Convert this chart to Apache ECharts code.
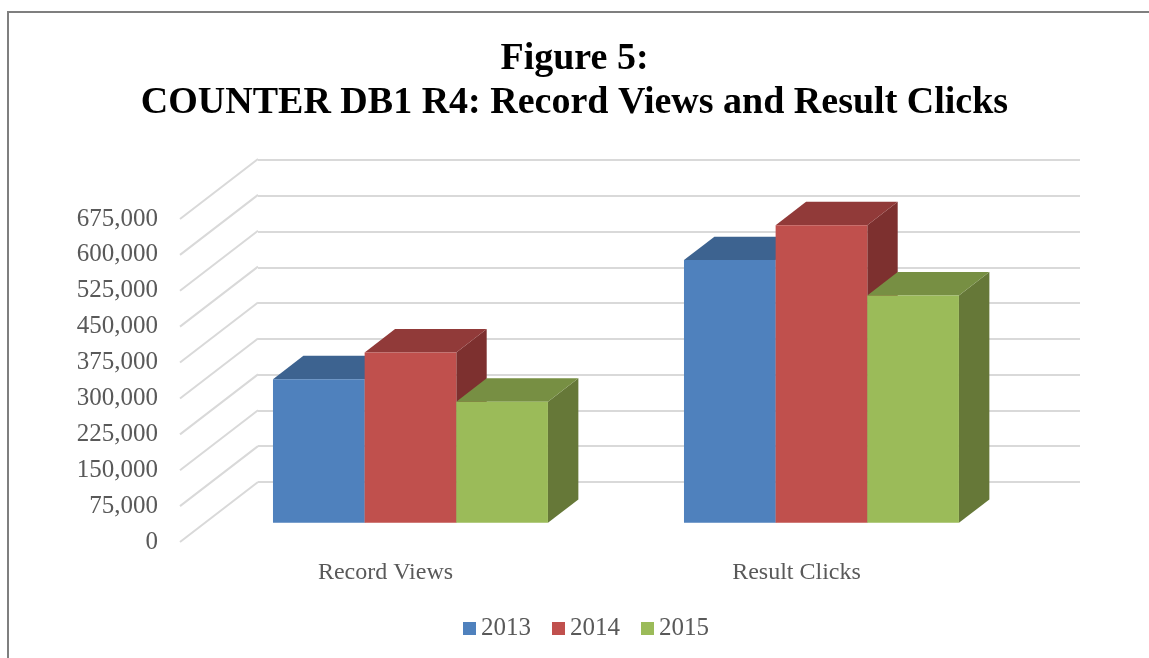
<!DOCTYPE html>
<html>
<head>
<meta charset="utf-8">
<script src="https://cdn.jsdelivr.net/npm/echarts@6/dist/echarts.min.js"></script>
<style>
    html, body { margin: 0; padding: 0; background: #fff; }
    #chart { width: 1149px; height: 658px; }
</style>
</head>
<body>
<div id="chart"></div>
<script>
// data
const categories = ['Record Views', 'Result Clicks']
const years = ['2013', '2014', '2015']
const values2013 = [300000, 549000]
const values2014 = [356000, 622000]
const values2015 = [253000, 475000]
const yMax = 675000
const yStep = 75000
const yTicks = [0, 75000, 150000, 225000, 300000, 375000, 450000, 525000, 600000, 675000]

// colours: front, top, side
const faceColors = [
    ['#4F81BD', '#3D6390', '#365780'],
    ['#C0504D', '#913A39', '#7D302F'],
    ['#9BBB59', '#778F43', '#667838']
]

// 3d box geometry (front plane grid -> back wall grid)
const FRONT = { left: 180, top: 219, width: 822, height: 323 }
const BACK = { left: 258, top: 160, width: 822, height: 322 }
const depthX = BACK.left - FRONT.left
const depthY = (BACK.top + BACK.height) - (FRONT.top + FRONT.height)
const barShift = 0.32   // where the bar front face sits in depth
const barDepth = 0.39   // how deep the bar is
const barRatio = 0.223  // bar width / category band

const fontFamily = '"Liberation Serif", "DejaVu Serif", serif'
const labelColor = '#595959'

const chart = echarts.init(document.getElementById('chart'))

const fmt = v => v.toLocaleString('en-US')

// draw one 3d bar
const barRender = (seriesPos) => (params, api) => {
    const cat = api.value(0)
    const base = api.coord([cat, 0])
    const top = api.coord([cat, api.value(1)])
    const band = api.size([1, 0])[0]
    const bw = band * barRatio
    const sx = depthX * barShift
    const sy = depthY * barShift
    const dx = depthX * barDepth
    const dy = depthY * barDepth
    const x0 = base[0] - 1.5 * bw + seriesPos * bw + sx
    const x1 = x0 + bw
    const yb = base[1] + sy
    const yt = top[1] + sy
    const c = faceColors[seriesPos]
    return {
        type: 'group',
        children: [
            {
                type: 'polygon',
                shape: { points: [[x1, yb], [x1 + dx, yb + dy], [x1 + dx, yt + dy], [x1, yt]] },
                style: { fill: c[2] }
            },
            {
                type: 'polygon',
                shape: { points: [[x0, yt], [x1, yt], [x1 + dx, yt + dy], [x0 + dx, yt + dy]] },
                style: { fill: c[1] }
            },
            {
                type: 'rect',
                shape: { x: x0, y: yt, width: bw, height: yb - yt },
                style: { fill: c[0] }
            }
        ]
    }
}

// diagonal grid lines from front labels to the back wall
const diagRender = (params, api) => {
    const y = api.coord([0, api.value(0)])[1]
    const x = params.coordSys.x
    return {
        type: 'line',
        shape: { x1: x, y1: y, x2: x + depthX, y2: y + depthY },
        style: { stroke: '#D9D9D9', lineWidth: 2 }
    }
}

const seriesValues = [values2013, values2014, values2015]

const titleStyle = {
    fontFamily: fontFamily,
    fontWeight: 'bold',
    fontSize: 38,
    color: '#000'
}

const option = {
    animation: false,
    color: faceColors.map(c => c[0]),
    title: [
        { text: 'Figure 5:', left: 'center', top: 35, textStyle: titleStyle },
        { text: 'COUNTER DB1 R4: Record Views and Result Clicks', left: 'center', top: 79, textStyle: titleStyle }
    ],
    legend: {
        data: years,
        bottom: 12,
        left: 458,
        icon: 'rect',
        itemWidth: 13,
        itemHeight: 13,
        itemGap: 21,
        textStyle: { fontFamily: fontFamily, fontSize: 25, color: labelColor }
    },
    graphic: [{
        type: 'rect',
        shape: { x: 8, y: 12, width: 1300, height: 800 },
        style: { fill: 'none', stroke: '#7F7F7F', lineWidth: 2 },
        silent: true
    }],
    grid: [
        { left: FRONT.left, top: FRONT.top, width: FRONT.width, height: FRONT.height },
        { left: BACK.left, top: BACK.top, width: BACK.width, height: BACK.height }
    ],
    xAxis: [
        {
            type: 'category',
            gridIndex: 0,
            data: categories,
            axisLine: { show: false },
            axisTick: { show: false },
            axisLabel: { margin: 19, fontFamily: fontFamily, fontSize: 24, color: labelColor }
        },
        {
            type: 'category',
            gridIndex: 1,
            data: categories,
            show: false
        }
    ],
    yAxis: [
        {
            type: 'value',
            gridIndex: 0,
            min: 0,
            max: yMax,
            interval: yStep,
            axisLine: { show: false },
            axisTick: { show: false },
            splitLine: { show: false },
            axisLabel: { margin: 22, fontFamily: fontFamily, fontSize: 25, color: labelColor, formatter: fmt }
        },
        {
            type: 'value',
            gridIndex: 1,
            min: 0,
            max: yMax,
            interval: yStep,
            axisLine: { show: false },
            axisTick: { show: false },
            axisLabel: { show: false },
            splitLine: { lineStyle: { color: '#D9D9D9', width: 2 } }
        }
    ],
    series: [
        {
            type: 'custom',
            xAxisIndex: 0,
            yAxisIndex: 0,
            silent: true,
            z: 1,
            renderItem: diagRender,
            data: yTicks.map(v => [v])
        }
    ].concat(years.map((y, i) => ({
        name: y,
        type: 'custom',
        xAxisIndex: 0,
        yAxisIndex: 0,
        z: 2,
        itemStyle: { color: faceColors[i][0] },
        renderItem: barRender(i),
        encode: { x: 0, y: 1 },
        data: seriesValues[i].map((v, k) => [k, v])
    })))
}

chart.setOption(option)
window.addEventListener('resize', () => chart.resize())
</script>
</body>
</html>
